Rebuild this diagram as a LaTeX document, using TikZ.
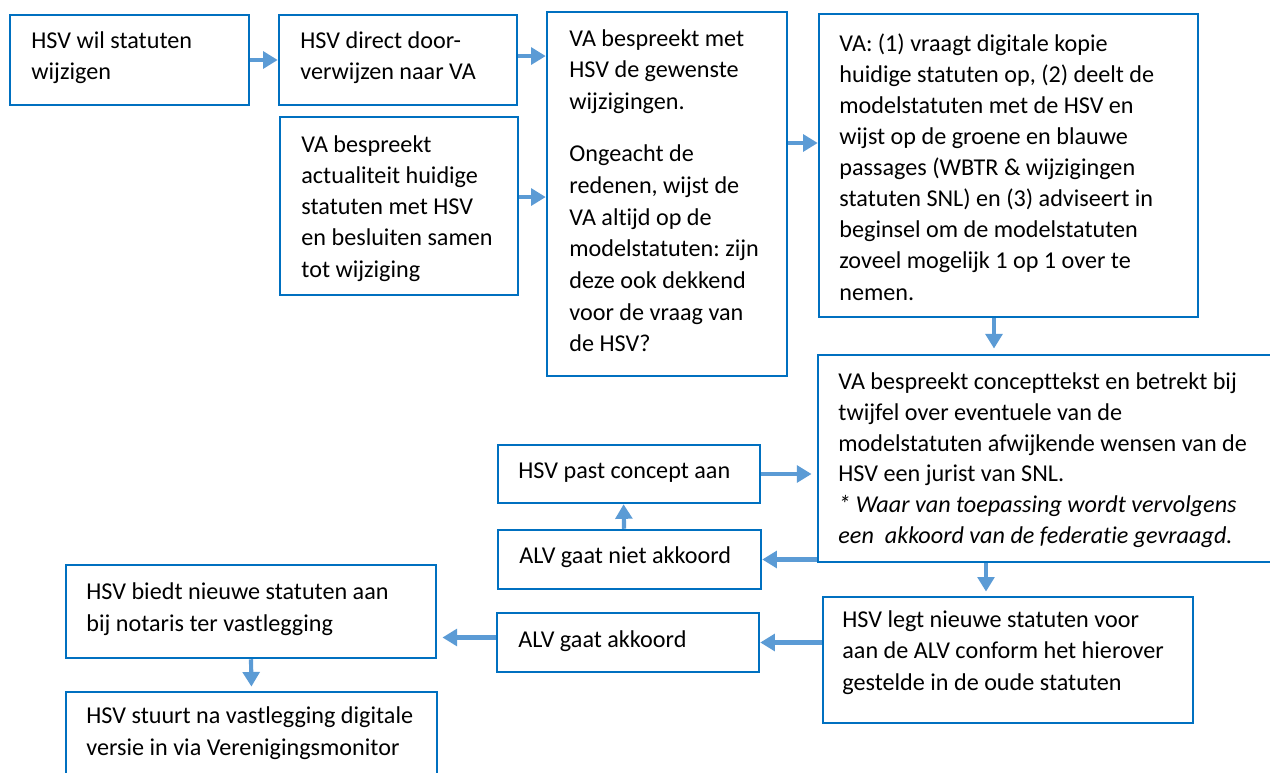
\documentclass[tikz,border=0pt]{standalone}
\usepackage{fontspec}
\setmainfont{Carlito}[Ligatures=NoCommon]
\frenchspacing
\usepackage{xcolor,tikz}
\usetikzlibrary{calc,positioning,fit,arrows.meta}
\tikzset{>={Triangle[length=7pt,width=8pt]}}
\definecolor{kaderblauw}{RGB}{0,112,192}
\definecolor{pijlblauw}{RGB}{91,155,213}
\tikzset{
  kader/.style={draw=kaderblauw, line width=1.2pt, inner sep=0pt},
  % tekst staat vast op de basislijn van de laatste regel
  tekst/.style={anchor=base west, align=left, inner sep=0pt, font=\fontsize{11.6pt}{14.9pt}\selectfont},
  pijl/.style={->, draw=pijlblauw, fill=pijlblauw, line width=2pt}
}

\begin{document}
\begin{tikzpicture}[x=0.48pt,y=-0.48pt]
        \useasboundingbox (0,0) rectangle (1270,773);
        %%%% kaders
        \node[kader, fit={(10,15) (249,105)}] (a) {};
        \node[kader, fit={(279,15) (517,105)}] (b) {};
        \node[kader, fit={(280,117) (518,295)}] (c) {};
        \node[kader, fit={(547,12) (787,376)}] (d) {};
        \node[kader, fit={(819,14) (1198,317)}] (e) {};
        \node[kader, fit={(818,355) (1290,562)}] (f) {};
        \node[kader, fit={(498,445) (760,503)}] (past) {};
        \node[kader, fit={(498,530) (761,589)}] (niet) {};
        \node[kader, fit={(66,565) (436,658)}] (biedt) {};
        \node[kader, fit={(497,613) (759,672)}] (akkoord) {};
        \node[kader, fit={(823,597) (1193,723)}] (legt) {};
        \node[kader, fit={(66,692) (437,800)}] (stuurt) {};
        %%%% teksten
        \node[tekst] (a-t) at (31,80) {HSV wil statuten\\wijzigen};
        \node[tekst] (b-t) at (300,80) {HSV direct door-\\verwijzen naar VA};
        \node[tekst] (c-t) at (301,277) {VA bespreekt\\actualiteit huidige\\statuten met HSV\\en besluiten samen\\tot wijziging};
        \node[tekst, font=\fontsize{11.6pt}{15.2pt}\selectfont] (d-t) at (569,352) {VA bespreekt met\\HSV de gewenste\\wijzigingen.\\[10pt]Ongeacht de\\redenen, wijst de\\VA altijd op de\\modelstatuten: zijn\\deze ook dekkend\\voor de vraag van\\de HSV?};
        \node[tekst] (e-t) at (839,300) {VA: (1) vraagt digitale kopie\\huidige statuten op, (2) deelt de\\modelstatuten met de HSV en\\wijst op de groene en blauwe\\passages (WBTR \& wijzigingen\\statuten SNL) en (3) adviseert in\\beginsel om de modelstatuten\\zoveel mogelijk 1 op 1 over te\\nemen.};
        \node[tekst, font=\fontsize{11.6pt}{14.7pt}\selectfont] (f-t) at (838,543) {VA bespreekt concepttekst en betrekt bij\\twijfel over eventuele van de\\modelstatuten afwijkende wensen van de\\HSV een jurist van SNL.\\\textit{* Waar van toepassing wordt vervolgens}\\\textit{een\ \ akkoord van de federatie gevraagd.}};
        \node[tekst] (past-t) at (518,478) {HSV past concept aan};
        \node[tekst] (niet-t) at (519,563) {ALV gaat niet akkoord};
        \node[tekst] (biedt-t) at (86,631) {HSV biedt nieuwe statuten aan\\bij notaris ter vastlegging};
        \node[tekst] (akkoord-t) at (518,647) {ALV gaat akkoord};
        \node[tekst] (legt-t) at (842,690) {HSV legt nieuwe statuten voor\\aan de ALV conform het hierover\\gestelde in de oude statuten};
        \node[tekst] (stuurt-t) at (86,755) {HSV stuurt na vastlegging digitale\\versie in via Verenigingsmonitor};
        %%%% pijlen
        \coordinate (hoogte-de) at (0,143);
        \coordinate (kolom-ef) at (994,0);
        \coordinate (kolom-fl) at (986,0);
        \draw[pijl] (a.east) -- (b.west);
        \draw[pijl] ([yshift=1.9pt]b.east) -- ([yshift=1.9pt]b.east -| d.west);
        \draw[pijl] ([yshift=4.3pt]c.east) -- ([yshift=4.3pt]c.east -| d.west);
        \draw[pijl] (d.east |- hoogte-de) -- (e.west |- hoogte-de);
        \draw[pijl, shorten >=2.5pt] (e.south -| kolom-ef) -- (f.north -| kolom-ef);
        \draw[pijl, shorten >=2.5pt] (past.east) -- (past.east -| f.west);
        \draw[pijl] (niet.east -| f.west) -- (niet.east);
        \draw[pijl] ([xshift=-2.6pt]niet.north) -- ([xshift=-2.6pt]past.south);
        \draw[pijl, shorten >=2pt] (f.south -| kolom-fl) -- (legt.north -| kolom-fl);
        \draw[pijl] (akkoord.east -| legt.west) -- (akkoord.east);
        \draw[pijl, shorten >=2.5pt] ([yshift=2.4pt]akkoord.west) -- ([yshift=2.4pt]akkoord.west -| biedt.east);
        \draw[pijl, shorten >=2pt] (biedt.south) -- (stuurt.north);
\end{tikzpicture}
\end{document}
